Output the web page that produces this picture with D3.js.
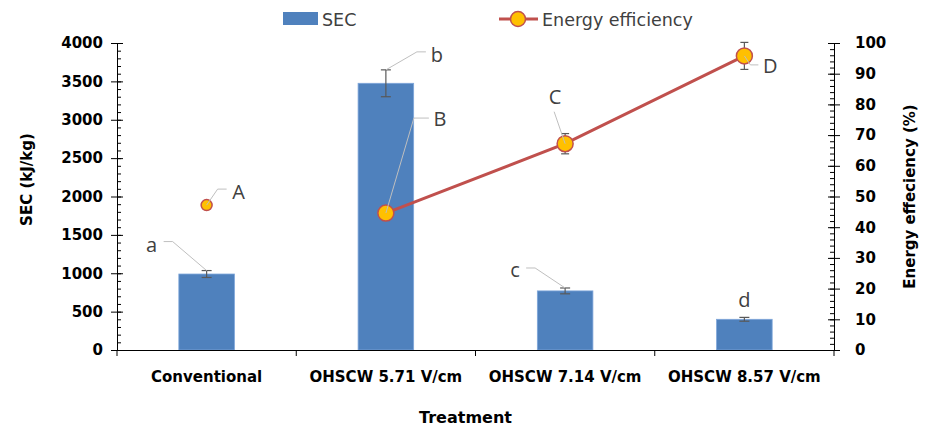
<!DOCTYPE html>
<html>
<head>
<meta charset="utf-8">
<script src="https://cdn.jsdelivr.net/npm/d3@7"></script>
<style>
  html, body { margin: 0; padding: 0; background: #fff; }
  svg { display: block; font-family: "DejaVu Sans", sans-serif; }
</style>
</head>
<body>
<svg id="chart" width="930" height="430"></svg>
<script>
// ---- data ----
const categories = ["Conventional", "OHSCW 5.71 V/cm", "OHSCW 7.14 V/cm", "OHSCW 8.57 V/cm"];
const secValues = [990, 3475, 770, 400];            // kJ/kg
const secErrors = [45, 175, 38, 25];
const secLetters = ["a", "b", "c", "d"];
const effValues = [47.2, 44.6, 67.2, 95.8];         // %
const effErrors = [1, 2.4, 3.3, 4.4];
const effLetters = ["A", "B", "C", "D"];
const secTicks = [0, 500, 1000, 1500, 2000, 2500, 3000, 3500, 4000];
const effTicks = [0, 10, 20, 30, 40, 50, 60, 70, 80, 90, 100];

// ---- layout ----
const plotL = 117, plotR = 834, plotT = 43, plotB = 350;
const barColor = "#4F81BD", lineColor = "#C0504D", markerFill = "#FFC000";
const labelColor = "#404040", leaderColor = "#BFBFBF", errColor = "#595959";

const svg = d3.select("#chart");

const x = d3.scaleBand().domain(categories).range([plotL, plotR]).padding(0);
const ySec = d3.scaleLinear().domain([0, 4000]).range([plotB, plotT]);
const yEff = d3.scaleLinear().domain([0, 100]).range([plotB, plotT]);
const barW = x.bandwidth() * 0.31;
const cx = c => x(c) + x.bandwidth() / 2;
const intFmt = d3.format("d");

// ---- bars ----
svg.append("g").selectAll("rect").data(categories).join("rect")
  .attr("x", c => cx(c) - barW / 2)
  .attr("y", (c, i) => ySec(secValues[i]))
  .attr("width", barW)
  .attr("height", (c, i) => ySec(0) - ySec(secValues[i]))
  .attr("fill", barColor)
  .attr("stroke", "#7EA6DA").attr("stroke-width", 0.8);

// bar error bars
const errG = svg.append("g").attr("stroke", errColor).attr("stroke-width", 1.2);
categories.forEach((c, i) => {
  const xc = cx(c), y1 = ySec(secValues[i] + secErrors[i]), y2 = ySec(secValues[i] - secErrors[i]);
  errG.append("line").attr("x1", xc).attr("x2", xc).attr("y1", y1).attr("y2", y2);
  errG.append("line").attr("x1", xc - 5).attr("x2", xc + 5).attr("y1", y1).attr("y2", y1);
  errG.append("line").attr("x1", xc - 5).attr("x2", xc + 5).attr("y1", y2).attr("y2", y2);
});

// ---- axes ----
// left axis: minor ticks inside, major ticks crossing
const leftMinor = d3.range(0, 4001, 100);
svg.append("g").attr("transform", `translate(${plotL},0)`)
  .call(d3.axisRight(ySec).tickValues(leftMinor).tickSize(4).tickFormat(""))
  .call(g => g.select(".domain").remove());
svg.append("g").attr("transform", `translate(${plotL},0)`)
  .call(d3.axisRight(ySec).tickValues(secTicks).tickSize(6).tickFormat(""))
  .call(g => g.select(".domain").remove());
const la = svg.append("g").attr("transform", `translate(${plotL},0)`)
  .call(d3.axisLeft(ySec).tickValues(secTicks).tickFormat(intFmt).tickSize(6).tickPadding(8).tickSizeOuter(0));
la.selectAll("text").attr("font-size", 15).attr("font-weight", "bold").attr("fill", "#000")
  .attr("font-family", "DejaVu Sans");
la.select(".domain").attr("stroke", "#000");

// right axis
const rightMinor = d3.range(0, 101, 2);
svg.append("g").attr("transform", `translate(${plotR},0)`)
  .call(d3.axisLeft(yEff).tickValues(rightMinor).tickSize(4).tickFormat(""))
  .call(g => g.select(".domain").remove());
svg.append("g").attr("transform", `translate(${plotR},0)`)
  .call(d3.axisLeft(yEff).tickValues(effTicks).tickSize(6).tickFormat(""))
  .call(g => g.select(".domain").remove());
const ra = svg.append("g").attr("transform", `translate(${plotR},0)`)
  .call(d3.axisRight(yEff).tickValues(effTicks).tickFormat(intFmt).tickSize(6).tickPadding(15).tickSizeOuter(0));
ra.selectAll("text").attr("font-size", 15).attr("font-weight", "bold").attr("fill", "#000")
  .attr("font-family", "DejaVu Sans");
ra.select(".domain").attr("stroke", "#000");

// bottom axis: labels centred in bands, ticks at band boundaries
const ba = svg.append("g").attr("transform", `translate(0,${plotB})`)
  .call(d3.axisBottom(x).tickSize(0).tickPadding(21).tickSizeOuter(0));
ba.selectAll("text").attr("font-size", 15).attr("font-weight", "bold").attr("fill", "#000")
  .attr("font-family", "DejaVu Sans");
ba.select(".domain").attr("stroke", "#000");
const bounds = categories.map(c => x(c)).concat([x.range()[1]]);
svg.append("g").selectAll("line").data(bounds).join("line")
  .attr("x1", d => d).attr("x2", d => d)
  .attr("y1", plotB).attr("y2", plotB + 6)
  .attr("stroke", "#000");

// axis titles
svg.append("text").attr("transform", `translate(32,${(plotT + plotB) / 2 - 17}) rotate(-90)`)
  .attr("text-anchor", "middle").attr("font-size", 15).attr("font-weight", "bold")
  .text("SEC (kJ/kg)");
svg.append("text").attr("transform", `translate(915,${(plotT + plotB) / 2}) rotate(-90)`)
  .attr("text-anchor", "middle").attr("font-size", 15).attr("font-weight", "bold")
  .text("Energy effeciency (%)");
svg.append("text").attr("x", (plotL + plotR) / 2 - 10).attr("y", 423)
  .attr("text-anchor", "middle").attr("font-size", 16).attr("font-weight", "bold")
  .text("Treatment");

// ---- energy efficiency line (treatments only; conventional stands alone) ----
const linePts = categories.map((c, i) => [cx(c), yEff(effValues[i])]).slice(1);
svg.append("path").datum(linePts)
  .attr("d", d3.line())
  .attr("fill", "none").attr("stroke", lineColor).attr("stroke-width", 3);

// efficiency error bars
const eErr = svg.append("g").attr("stroke", errColor).attr("stroke-width", 1.2);
categories.forEach((c, i) => {
  const xc = cx(c), y1 = yEff(effValues[i] + effErrors[i]), y2 = yEff(effValues[i] - effErrors[i]);
  eErr.append("line").attr("x1", xc).attr("x2", xc).attr("y1", y1).attr("y2", y2);
  eErr.append("line").attr("x1", xc - 4).attr("x2", xc + 4).attr("y1", y1).attr("y2", y1);
  eErr.append("line").attr("x1", xc - 4).attr("x2", xc + 4).attr("y1", y2).attr("y2", y2);
});

// markers
svg.append("g").selectAll("circle").data(categories).join("circle")
  .attr("cx", c => cx(c))
  .attr("cy", (c, i) => yEff(effValues[i]))
  .attr("r", (c, i) => i === 0 ? 5.5 : 8)
  .attr("fill", markerFill).attr("stroke", lineColor).attr("stroke-width", 1.5);

// ---- significance letters with leader lines ----
// offsets are relative to the anchor point on each mark
const secLabelLayout = [
  { leader: [[-34, -29], [-43, -29]], text: [-55, -26] },
  { leader: [[31, -18], [40, -18]], text: [51, -15] },
  { leader: [[-30, -20], [-39, -20]], text: [-50, -18] },
  { leader: [], text: [0, -18] }
];
const effLabelLayout = [
  { leader: [[11, -16], [20, -16]], text: [32, -13] },
  { leader: [[28, -95], [43, -95]], text: [54, -94] },
  { leader: [[-11, -32]], text: [-10, -47] },
  { leader: [[6, 9], [14, 9]], text: [26, 10] }
];
const ann = svg.append("g");
function annotate(ax, ay, layout, letter) {
  if (layout.leader.length) {
    const pts = [[ax, ay]].concat(layout.leader.map(p => [ax + p[0], ay + p[1]]));
    ann.append("path").attr("d", d3.line()(pts))
      .attr("fill", "none").attr("stroke", leaderColor).attr("stroke-width", 1);
  }
  ann.append("text").attr("x", ax + layout.text[0]).attr("y", ay + layout.text[1])
    .attr("dy", "0.36em").attr("text-anchor", "middle")
    .attr("font-size", 20).attr("fill", labelColor).attr("font-family", "Open Sans, DejaVu Sans")
    .text(letter);
}
categories.forEach((c, i) => {
  annotate(cx(c), ySec(secValues[i] + secErrors[i]), secLabelLayout[i], secLetters[i]);
  annotate(cx(c), yEff(effValues[i]), effLabelLayout[i], effLetters[i]);
});

// ---- legend ----
const lg = svg.append("g");
lg.append("rect").attr("x", 283).attr("y", 12).attr("width", 35).attr("height", 13).attr("fill", barColor);
lg.append("text").attr("x", 322).attr("y", 26).attr("font-size", 17.5).attr("fill", labelColor).text("SEC");
lg.append("line").attr("x1", 499).attr("x2", 538).attr("y1", 19).attr("y2", 19)
  .attr("stroke", lineColor).attr("stroke-width", 3);
lg.append("circle").attr("cx", 518).attr("cy", 19).attr("r", 7.5)
  .attr("fill", markerFill).attr("stroke", lineColor).attr("stroke-width", 1.5);
lg.append("text").attr("x", 542).attr("y", 26).attr("font-size", 17.5).attr("fill", labelColor).text("Energy efficiency");
</script>
</body>
</html>
